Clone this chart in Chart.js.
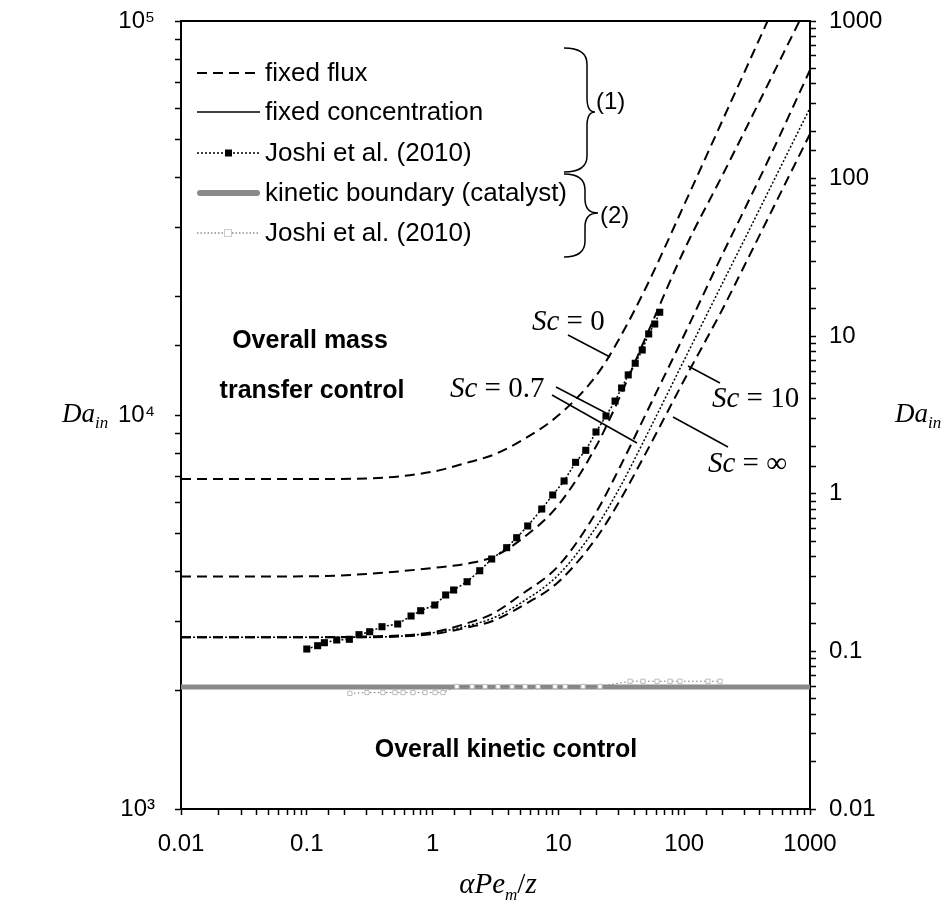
<!DOCTYPE html>
<html>
<head>
<meta charset="utf-8">
<script src="https://cdn.jsdelivr.net/npm/chart.js@4"></script>
<style>
  html, body { margin: 0; padding: 0; background: #fff; }
  #wrap { width: 951px; height: 905px; }
</style>
</head>
<body>
<div id="wrap"><canvas id="c" width="951" height="905"></canvas></div>
<script>
// tick labels
const xTickLabels = ['0.01', '0.1', '1', '10', '100', '1000'];
const yTickLabels = ['10³', '10⁴', '10⁵'];
const y2TickLabels = ['0.01', '0.1', '1', '10', '100', '1000'];

// model curves
const curveX = [0.01, 0.1, 0.3, 1, 2, 3, 5, 10, 20, 30, 50, 100, 200, 300, 500, 1000];
const fluxSc0 = [6880, 6880, 6900, 7180, 7610, 7910, 8580, 9980, 12590, 15480, 21160, 34170, 55630, 73960, 106000, 172000];
const fluxSc07 = [3890, 3895, 3950, 4090, 4210, 4360, 4820, 5910, 8340, 10920, 15870, 26230, 40440, 52280, 72530, 113100];
const fluxSc10 = [2730, 2730, 2740, 2810, 2980, 3130, 3490, 4140, 5670, 7250, 10120, 15960, 25470, 33140, 46510, 75100];
const dottedSc10 = [2730, 2730, 2730, 2800, 2930, 3050, 3330, 3930, 5200, 6450, 8850, 13790, 21500, 27810, 38580, 60150];
const fluxScInf = [2730, 2730, 2730, 2780, 2900, 3000, 3260, 3770, 4870, 5980, 8050, 12270, 18470, 23880, 33140, 51670];

// Joshi et al. (2010), mass transfer
const joshiX = [0.1, 0.122, 0.138, 0.173, 0.218, 0.26, 0.316, 0.396, 0.528, 0.674, 0.804, 1.04, 1.27, 1.47, 1.88, 2.37, 2.95, 3.88, 4.66, 5.7, 7.37, 9.01, 11.1, 13.7, 16.5, 19.9, 23.9, 28.2, 31.8, 35.9, 40.8, 46.4, 52.2, 58.3, 63.9];
const joshiY = [2547, 2597, 2643, 2685, 2696, 2770, 2818, 2902, 2948, 3089, 3186, 3294, 3493, 3596, 3774, 4025, 4310, 4605, 4882, 5228, 5772, 6266, 6800, 7585, 8135, 9055, 9942, 10850, 11710, 12640, 13530, 14620, 16060, 17020, 18230];

// Joshi et al. (2010), kinetic
const joshi2X = [0.22, 0.301, 0.403, 0.502, 0.582, 0.698, 0.87, 1.045, 1.21, 1.56, 2.06, 2.61, 3.31, 4.28, 5.43, 6.89, 9.4, 11.3, 15.7, 21.4, 37.1, 47.0, 60.8, 77.1, 92.6, 154.5, 192.6];
const joshi2Y = [1965, 1975, 1975, 1975, 1975, 1975, 1975, 1975, 1975, 2046, 2046, 2046, 2046, 2046, 2046, 2046, 2046, 2046, 2046, 2046, 2110, 2110, 2110, 2110, 2110, 2110, 2110];

// kinetic boundary (catalyst)
const kineticX = [0.01, 1000];
const kineticY = [2040, 2040];

const SANS = '"Liberation Sans", Arial, sans-serif';
const SERIF = '"Liberation Serif", "Times New Roman", serif';

const pts = (xs, ys) => xs.map((x, i) => ({ x, y: ys[i] }));

function majorLabel(labels, lo) {
  return v => {
    const l = Math.log10(v);
    if (Math.abs(l - Math.round(l)) > 1e-6) return '';
    return labels[Math.round(l) - lo] || '';
  };
}

const tickGrid = { drawOnChartArea: false, drawTicks: true, tickLength: 6, tickWidth: 1.5, tickColor: '#000' };
const axisBorder = { color: '#000', width: 2 };

// keep the plot box where the picture has it
function fixSize(w, h) {
  return s => {
    if (w) s.width = w;
    if (h) s.height = h;
    s.paddingTop = 0; s.paddingBottom = 0; s.paddingLeft = 0; s.paddingRight = 0;
  };
}

// rich text: parts = [text, font, dy]
function rich(ctx, x, y, parts, align) {
  let w = 0;
  parts.forEach(p => { ctx.font = p[1]; w += ctx.measureText(p[0]).width; });
  if (align === 'center') x -= w / 2;
  ctx.textAlign = 'left';
  ctx.textBaseline = 'alphabetic';
  parts.forEach(p => {
    ctx.font = p[1];
    ctx.fillText(p[0], x, y + (p[2] || 0));
    x += ctx.measureText(p[0]).width;
  });
}

function line(ctx, x0, y0, x1, y1) {
  ctx.beginPath(); ctx.moveTo(x0, y0); ctx.lineTo(x1, y1); ctx.stroke();
}

function brace(ctx, x, y0, y1, ym, xv, tipX) {
  ctx.beginPath();
  ctx.moveTo(x, y0);
  ctx.quadraticCurveTo(xv, y0, xv, y0 + 16);
  ctx.lineTo(xv, ym - 14);
  ctx.quadraticCurveTo(xv, ym, tipX, ym);
  ctx.quadraticCurveTo(xv, ym, xv, ym + 14);
  ctx.lineTo(xv, y1 - 16);
  ctx.quadraticCurveTo(xv, y1, x, y1);
  ctx.stroke();
}

const annotations = {
  id: 'annotations',
  afterDraw(chart) {
    const ctx = chart.ctx, a = chart.chartArea;
    ctx.save();
    ctx.strokeStyle = '#000';
    ctx.fillStyle = '#000';

    // top frame
    ctx.lineWidth = 2;
    line(ctx, a.left - 1, a.top, a.right + 1, a.top);

    // legend
    const lx0 = 197, lx1 = 260, tx = 265;
    const rows = [73, 112, 153, 193, 233];
    ctx.lineWidth = 2; ctx.setLineDash([10, 6]);
    line(ctx, lx0, rows[0], lx1, rows[0]);
    ctx.setLineDash([]); ctx.lineWidth = 1.5;
    line(ctx, lx0, rows[1], lx1, rows[1]);
    ctx.setLineDash([2, 2]);
    line(ctx, lx0, rows[2], lx1, rows[2]);
    ctx.setLineDash([]);
    ctx.fillRect(225, rows[2] - 3.5, 7, 7);
    ctx.strokeStyle = '#8a8a8a'; ctx.lineWidth = 6; ctx.lineCap = 'round';
    line(ctx, lx0 + 3, rows[3], lx1 - 3, rows[3]);
    ctx.lineCap = 'butt';
    ctx.strokeStyle = '#555'; ctx.lineWidth = 1; ctx.setLineDash([1.5, 2]);
    line(ctx, lx0, rows[4], lx1, rows[4]);
    ctx.setLineDash([]);
    ctx.fillStyle = '#fff'; ctx.fillRect(224, rows[4] - 4, 8, 8);
    ctx.strokeStyle = '#ccc'; ctx.strokeRect(224.5, rows[4] - 3.5, 7, 7);
    ctx.fillStyle = '#000'; ctx.strokeStyle = '#000';

    ctx.font = '26px ' + SANS;
    ctx.textAlign = 'left'; ctx.textBaseline = 'middle';
    ['fixed flux', 'fixed concentration', 'Joshi et al. (2010)', 'kinetic boundary (catalyst)', 'Joshi et al. (2010)']
      .forEach((t, i) => ctx.fillText(t, tx, rows[i] + 1));

    // braces
    ctx.lineWidth = 1.5;
    brace(ctx, 564, 48, 172, 112, 587, 595);
    brace(ctx, 564, 174, 257, 213, 585, 598);
    ctx.font = '24px ' + SANS;
    ctx.fillText('(1)', 596, 102);
    ctx.fillText('(2)', 600, 216);

    // region labels
    ctx.font = 'bold 25px ' + SANS;
    ctx.textAlign = 'center'; ctx.textBaseline = 'alphabetic';
    ctx.fillText('Overall mass', 310, 348);
    ctx.fillText('transfer control', 312, 398);
    ctx.fillText('Overall kinetic control', 506, 757);

    // Sc labels and leaders
    const it = 'italic 29px ' + SERIF, up = '29px ' + SERIF;
    rich(ctx, 532, 330, [['Sc', it], [' = ', up], ['0', up]]);
    rich(ctx, 450, 397, [['Sc', it], [' = ', up], ['0.7', up]]);
    rich(ctx, 712, 407, [['Sc', it], [' = ', up], ['10', up]]);
    rich(ctx, 708, 472, [['Sc', it], [' = ', up], ['∞', up]]);
    ctx.lineWidth = 1.5;
    line(ctx, 568, 335, 610, 357);
    line(ctx, 556, 387, 606, 413);
    line(ctx, 552, 395, 637, 443);
    line(ctx, 720, 383, 688, 366);
    line(ctx, 728, 447, 673, 417);

    // axis titles
    const di = 'italic 27px ' + SERIF, sub = 'italic 17px ' + SERIF;
    rich(ctx, 62, 422, [['Da', di], ['in', sub, 6]]);
    rich(ctx, 895, 422, [['Da', di], ['in', sub, 6]]);
    rich(ctx, 498, 893, [['α', 'italic 29px ' + SERIF], ['Pe', 'italic 29px ' + SERIF], ['m', sub, 7],
      ['/', '29px ' + SERIF], ['z', 'italic 29px ' + SERIF]], 'center');

    ctx.restore();
  }
};

const curve = (data, extra) => Object.assign({
  data, borderColor: '#000', borderWidth: 2, pointRadius: 0,
  cubicInterpolationMode: 'monotone', fill: false
}, extra);

new Chart(document.getElementById('c'), {
  type: 'line',
  data: {
    datasets: [
      {
        label: 'Joshi et al. (2010)',
        data: pts(joshiX, joshiY),
        borderColor: '#000', borderWidth: 1.5, borderDash: [2, 2],
        pointStyle: 'rect', pointRadius: 5, pointBackgroundColor: '#000', pointBorderWidth: 0
      },
      curve(pts(curveX, fluxSc0), { borderDash: [10, 6] }),
      curve(pts(curveX, fluxSc07), { borderDash: [10, 6] }),
      curve(pts(curveX, fluxSc10), { borderDash: [10, 6] }),
      curve(pts(curveX, dottedSc10), { borderDash: [2, 2], borderWidth: 1.5 }),
      curve(pts(curveX, fluxScInf), { borderDash: [10, 6] }),
      {
        label: 'Joshi et al. (2010) kinetic',
        data: pts(joshi2X, joshi2Y),
        borderColor: '#777', borderWidth: 1, borderDash: [1.5, 2.5],
        pointStyle: 'rect', pointRadius: 3, pointBackgroundColor: '#fff',
        pointBorderColor: '#bbb', pointBorderWidth: 1
      },
      {
        label: 'kinetic boundary (catalyst)',
        data: pts(kineticX, kineticY),
        borderColor: '#8a8a8a', borderWidth: 5, pointRadius: 0
      }
    ]
  },
  options: {
    responsive: false,
    devicePixelRatio: 1,
    animation: false,
    events: [],
    layout: { padding: { top: 21, left: 0, right: 0, bottom: 0 } },
    plugins: { legend: { display: false }, tooltip: { enabled: false } },
    scales: {
      x: {
        type: 'logarithmic', position: 'bottom', min: 0.01, max: 1000,
        grid: tickGrid, border: axisBorder,
        ticks: {
          autoSkip: false, maxRotation: 0, padding: 15, color: '#000',
          font: { family: SANS, size: 24 },
          callback: majorLabel(xTickLabels, -2)
        },
        afterFit: fixSize(0, 96)
      },
      y: {
        type: 'logarithmic', position: 'left', min: 1000, max: 100000,
        grid: tickGrid, border: axisBorder,
        ticks: {
          autoSkip: false, padding: 20, color: '#000',
          font: { family: SANS, size: 24 },
          callback: majorLabel(yTickLabels, 3)
        },
        afterFit: fixSize(181, 0)
      },
      y2: {
        type: 'logarithmic', position: 'right', min: 0.01, max: 1000,
        grid: tickGrid, border: axisBorder,
        ticks: {
          autoSkip: false, padding: 13, color: '#000',
          font: { family: SANS, size: 24 },
          callback: majorLabel(y2TickLabels, -2)
        },
        afterFit: fixSize(141, 0)
      }
    }
  },
  plugins: [annotations]
});
</script>
</body>
</html>
